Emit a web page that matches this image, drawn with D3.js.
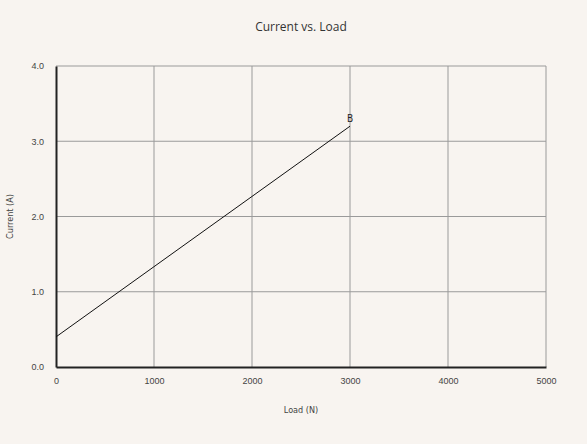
<!DOCTYPE html>
<html>
<head>
<meta charset="utf-8">
<script src="https://cdn.jsdelivr.net/npm/d3@7"></script>
<style>
  html, body { margin: 0; padding: 0; background: #f8f4f0; }
  svg { display: block; font-family: 'DejaVu Sans Condensed', 'Open Sans', sans-serif; font-stretch: condensed; }
</style>
</head>
<body>
<div id="chart"></div>
<script>
const loads = [0, 3000];
const currents = [0.4, 3.2];
const pointLabels = ['', 'B'];
const xTicks = [0, 1000, 2000, 3000, 4000, 5000];
const yTicks = [0.0, 1.0, 2.0, 3.0, 4.0];

const width = 587, height = 444;
const margin = { top: 66, right: 41, bottom: 77, left: 56 };
const innerW = width - margin.left - margin.right;
const innerH = height - margin.top - margin.bottom;

const svg = d3.select('#chart').append('svg')
    .attr('width', width)
    .attr('height', height);

svg.append('rect')
    .attr('width', width).attr('height', height)
    .attr('fill', '#f8f4f0');

const g = svg.append('g')
    .attr('transform', `translate(${margin.left},${margin.top})`);

const x = d3.scaleLinear().domain([0, 5000]).range([0, innerW]);
const y = d3.scaleLinear().domain([0, 4]).range([innerH, 0]);

// grid
g.append('g').selectAll('line.vg')
    .data(xTicks.slice(1))
    .join('line')
    .attr('x1', d => x(d)).attr('x2', d => x(d))
    .attr('y1', 0).attr('y2', innerH)
    .attr('stroke', '#9a9a9a').attr('stroke-width', 1);

g.append('g').selectAll('line.hg')
    .data(yTicks.slice(1))
    .join('line')
    .attr('x1', 0).attr('x2', innerW)
    .attr('y1', d => y(d)).attr('y2', d => y(d))
    .attr('stroke', '#9a9a9a').attr('stroke-width', 1);

// axes
const xAxis = g.append('g')
    .attr('transform', `translate(0,${innerH})`)
    .call(d3.axisBottom(x).tickValues(xTicks).tickSize(0).tickPadding(11).tickFormat(d3.format('d')));
const yAxis = g.append('g')
    .call(d3.axisLeft(y).tickValues(yTicks).tickSize(0).tickPadding(12).tickFormat(d3.format('.1f')));

[xAxis, yAxis].forEach(a => {
    a.select('.domain').attr('stroke', '#222').attr('stroke-width', 2);
    a.selectAll('text').attr('fill', '#444').style('font-size', '9px');
});

// line
const line = d3.line().x((d, i) => x(loads[i])).y(d => y(d));
g.append('path')
    .datum(currents)
    .attr('d', line)
    .attr('fill', 'none')
    .attr('stroke', '#111')
    .attr('stroke-width', 1);

g.selectAll('text.pl')
    .data(currents)
    .join('text')
    .attr('class', 'pl')
    .attr('x', (d, i) => x(loads[i]))
    .attr('y', d => y(d) - 4)
    .attr('text-anchor', 'middle')
    .attr('fill', '#222')
    .style('font-size', '10px')
    .text((d, i) => pointLabels[i]);

// titles
svg.append('text')
    .attr('x', margin.left + innerW / 2)
    .attr('y', 31)
    .attr('text-anchor', 'middle')
    .attr('fill', '#333')
    .style('font-size', '12px')
    .style('font-family', 'Open Sans, sans-serif')
    .style('font-stretch', 'normal')
    .text('Current vs. Load');

svg.append('text')
    .attr('x', margin.left + innerW / 2)
    .attr('y', 413)
    .attr('text-anchor', 'middle')
    .attr('fill', '#444')
    .style('font-size', '9px')
    .text('Load (N)');

svg.append('text')
    .attr('transform', `translate(13,${margin.top + innerH / 2}) rotate(-90)`)
    .attr('text-anchor', 'middle')
    .attr('fill', '#444')
    .style('font-size', '9px')
    .text('Current (A)');
</script>
</body>
</html>
